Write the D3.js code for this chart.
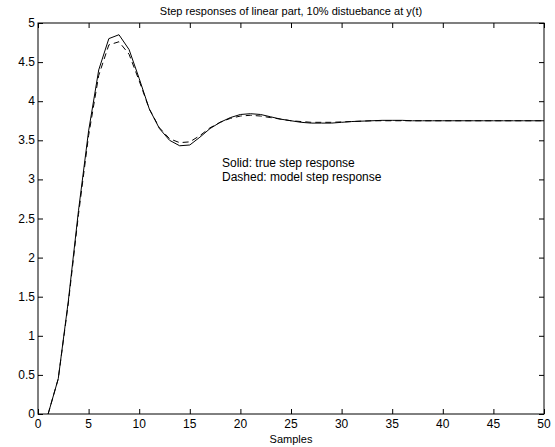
<!DOCTYPE html>
<html>
<head>
<meta charset="utf-8">
<script src="https://cdn.jsdelivr.net/npm/d3@7"></script>
<style>
  body { margin: 0; background: #fff; }
  text { font-family: "Liberation Sans", Arial, sans-serif; fill: #000; }
</style>
</head>
<body>
<div id="chart"></div>
<script>
// samples 1..50
var samples = d3.range(1, 51);
var trueStep = [0, 0.45, 1.45, 2.6, 3.62, 4.4, 4.8, 4.85, 4.66, 4.29,
  3.9, 3.65, 3.5, 3.43, 3.44, 3.54, 3.65, 3.73, 3.79, 3.83,
  3.84, 3.83, 3.8, 3.77, 3.75, 3.73, 3.72, 3.72, 3.72, 3.73,
  3.74, 3.745, 3.75, 3.755, 3.755, 3.755, 3.75, 3.75, 3.75, 3.75,
  3.75, 3.75, 3.75, 3.75, 3.75, 3.75, 3.75, 3.75, 3.75, 3.75];
var modelStep = [0, 0.45, 1.42, 2.55, 3.56, 4.33, 4.72, 4.76, 4.6, 4.26,
  3.9, 3.66, 3.52, 3.47, 3.48, 3.56, 3.66, 3.73, 3.78, 3.81,
  3.82, 3.81, 3.79, 3.77, 3.75, 3.74, 3.73, 3.73, 3.73, 3.735,
  3.74, 3.745, 3.75, 3.75, 3.75, 3.75, 3.75, 3.75, 3.75, 3.75,
  3.75, 3.75, 3.75, 3.75, 3.75, 3.75, 3.75, 3.75, 3.75, 3.75];
var xTicks = d3.range(0, 51, 5);
var yTicks = d3.range(0, 5.01, 0.5);

var width = 555, height = 447,
    margin = {top: 23, right: 11, bottom: 33, left: 38};

var svg = d3.select("#chart").append("svg")
    .attr("width", width)
    .attr("height", height);

var x = d3.scaleLinear().domain([0, 50]).range([margin.left, width - margin.right]);
var y = d3.scaleLinear().domain([0, 5]).range([height - margin.bottom, margin.top]);

// ticks on all four sides, pointing in
svg.append("g")
    .attr("transform", "translate(0," + y(0) + ")")
    .call(d3.axisTop(x).tickValues(xTicks).tickSize(5).tickFormat(""));
svg.append("g")
    .attr("transform", "translate(0," + y(5) + ")")
    .call(d3.axisBottom(x).tickValues(xTicks).tickSize(5).tickFormat(""));
svg.append("g")
    .attr("transform", "translate(" + x(0) + ",0)")
    .call(d3.axisRight(y).tickValues(yTicks).tickSize(5).tickFormat(""));
svg.append("g")
    .attr("transform", "translate(" + x(50) + ",0)")
    .call(d3.axisLeft(y).tickValues(yTicks).tickSize(5).tickFormat(""));
svg.selectAll(".domain").remove();
svg.selectAll(".tick line").attr("stroke", "#000");

svg.append("rect")
    .attr("x", x(0)).attr("y", y(5))
    .attr("width", x(50) - x(0)).attr("height", y(0) - y(5))
    .attr("fill", "none").attr("stroke", "#000").attr("stroke-width", 1);

// tick labels
svg.append("g").selectAll("text")
    .data(xTicks).enter().append("text")
    .attr("x", d => x(d)).attr("y", y(0) + 14)
    .attr("text-anchor", "middle")
    .style("font-size", "12px")
    .text(d => d);
svg.append("g").selectAll("text")
    .data(yTicks).enter().append("text")
    .attr("x", x(0) - 3).attr("y", d => y(d) + 4)
    .attr("text-anchor", "end")
    .style("font-size", "12px")
    .text(d => d);

var line = d3.line()
    .x((d, i) => x(samples[i]))
    .y(d => y(d));

svg.append("path").datum(trueStep)
    .attr("d", line)
    .attr("fill", "none").attr("stroke", "#000").attr("stroke-width", 1);
svg.append("path").datum(modelStep)
    .attr("d", line)
    .attr("fill", "none").attr("stroke", "#000").attr("stroke-width", 1)
    .attr("stroke-dasharray", "6,4");

svg.append("text")
    .attr("x", (x(0) + x(50)) / 2).attr("y", 15)
    .attr("text-anchor", "middle")
    .style("font-size", "11px")
    .text("Step responses of linear part, 10% distuebance at y(t)");
svg.append("text")
    .attr("x", (x(0) + x(50)) / 2).attr("y", 443)
    .attr("text-anchor", "middle")
    .style("font-size", "11px")
    .text("Samples");

svg.append("text").attr("x", 222).attr("y", 167)
    .style("font-size", "12px").text("Solid: true step response");
svg.append("text").attr("x", 222).attr("y", 181)
    .style("font-size", "12px").text("Dashed: model step response");
</script>
</body>
</html>
